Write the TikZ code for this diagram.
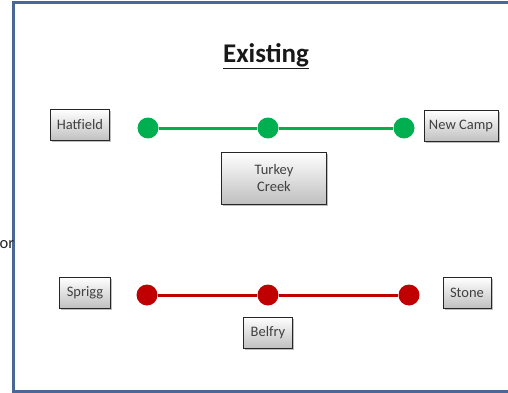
\documentclass[tikz,border=0pt]{standalone}
\usepackage{fontspec}
\setmainfont{Carlito}
\usepackage{xcolor}
\definecolor{framebl}{HTML}{4A6894}
\definecolor{lineg}{HTML}{00B050}
\definecolor{liner}{HTML}{C00000}
\definecolor{txt}{HTML}{404040}
\usepackage{tikz}
\usetikzlibrary{positioning, shadows}
\tikzset{
    town/.style={
        rectangle, draw=black!85, thick,
        top color=white, bottom color=black!25,
        drop shadow={shadow xshift=1.5pt, shadow yshift=-1.5pt, opacity=0.5},
        text=txt, font=\fontsize{14.5}{17}\selectfont,
        inner sep=2pt, minimum height=31pt
    },
    gstop/.style={circle, fill=lineg, inner sep=0pt, minimum size=21pt},
    rstop/.style={circle, fill=liner, inner sep=0pt, minimum size=21pt},
    gline/.style={draw=lineg, line width=3pt},
    rline/.style={draw=liner, line width=3pt},
}

\begin{document}
\begin{tikzpicture}[x=1pt, y=-1pt]
        \useasboundingbox (0,0) rectangle (508,393);
        \fill[white] (0,0) rectangle (508,393);
        \draw[framebl, line width=3pt] (520,3) -- (13,3) -- (13,391) -- (520,391);
        \node[text=black!85, anchor=west, font=\fontsize{16.5}{19}\selectfont, inner sep=0pt] (cut) at (-0.5,245) {or};

        \node[font=\bfseries\fontsize{27}{32}\selectfont, text=black!90] (title) at (266,56) {\underline{Existing}};

        % green line
        \node[gstop] (g1) at (148,128) {};
        \node[gstop] (g2) at (268,128) {};
        \node[gstop] (g3) at (404,128) {};
        \node[town, minimum width=59pt] (hat) at (80,125) {Hatfield};
        \node[town, minimum width=74pt] (newc) at (461,126) {New Camp};
        \node[town, minimum width=105pt, minimum height=52pt, align=center,
              below=13pt of g2, xshift=6pt] (turk) {Turkey\\Creek};

        % red line
        \node[rstop] (r1) at (147,295) {};
        \node[rstop] (r2) at (268,295) {};
        \node[rstop] (r3) at (409,295) {};
        \node[town, minimum width=51pt] (spr) at (85,293) {Sprigg};
        \node[town, minimum width=48pt] (sto) at (467,293) {Stone};
        \node[town, minimum width=49pt, below=11pt of r2] (bel) {Belfry};

        \foreach \i/\j in {g1/g2, g2/g3}
            \draw[gline] (\i)--(\j);
        \foreach \i/\j in {r1/r2, r2/r3}
            \draw[rline] (\i)--(\j);
\end{tikzpicture}
\end{document}
